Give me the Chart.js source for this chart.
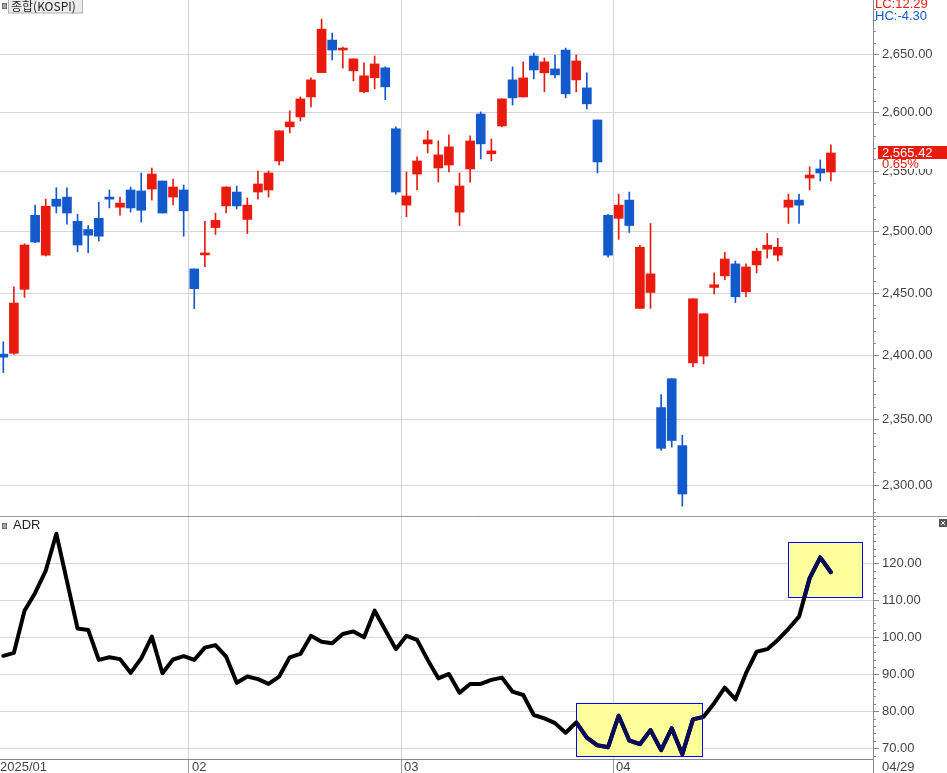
<!DOCTYPE html>
<html>
<head>
<meta charset="utf-8">
<script src="https://cdn.jsdelivr.net/npm/chart.js@4.4.1/dist/chart.umd.min.js"></script>
<style>
  html, body { margin: 0; padding: 0; background: #fff; overflow: hidden; }
  .panel { position: absolute; left: 0; }
</style>
</head>
<body>
<div class="panel" style="top:0"><canvas id="priceChart" width="947" height="516"></canvas></div>
<div class="panel" style="top:516px"><canvas id="adrChart" width="947" height="257"></canvas></div>
<script>
// trading days, 2025
const dates = [
  '01/02','01/03','01/06','01/07','01/08','01/09','01/10','01/13','01/14','01/15',
  '01/16','01/17','01/20','01/21','01/22','01/23','01/24','01/31',
  '02/03','02/04','02/05','02/06','02/07','02/10','02/11','02/12','02/13','02/14',
  '02/17','02/18','02/19','02/20','02/21','02/24','02/25','02/26','02/27','02/28',
  '03/04','03/05','03/06','03/07','03/10','03/11','03/12','03/13','03/14','03/17',
  '03/18','03/19','03/20','03/21','03/24','03/25','03/26','03/27','03/28','03/31',
  '04/01','04/02','04/03','04/04','04/07','04/08','04/09','04/10','04/11','04/14',
  '04/15','04/16','04/17','04/18','04/21','04/22','04/23','04/24','04/25','04/28','04/29'
];
const opens = [
  2401.3, 2402, 2453, 2513.4, 2480.7, 2526.8, 2528.5, 2508.4, 2501.7, 2510.9,
  2528.5, 2520.1, 2534.4, 2533.6, 2535.2, 2541.9, 2528.5, 2534.4, 2469.5, 2480.9,
  2503.3, 2521.2, 2532.7, 2510, 2532.7, 2534.4, 2558.7, 2587.5, 2596, 2613.1,
  2634.1, 2662.4, 2653.7, 2635.6, 2617.5, 2629.6, 2638.2, 2585.9, 2521.8, 2547.7,
  2573.1, 2552.8, 2555.3, 2516, 2552, 2598.5, 2564.7, 2588.3, 2627.8, 2613.1,
  2648.5, 2633.9, 2637.3, 2653.7, 2627.8, 2620.9, 2593.4, 2513.4, 2510.9, 2526,
  2437.7, 2450.5, 2359.5, 2382, 2330.2, 2394.4, 2399.8, 2454.5, 2463.9, 2473.6,
  2451, 2472.8, 2485.6, 2480.7, 2520.1, 2526, 2544.4, 2552, 2549.4
];
const highs = [
  2411, 2455, 2490, 2521.8, 2526.8, 2536.3, 2536.3, 2514.2, 2505, 2524.3,
  2534.4, 2528.5, 2536.9, 2548.6, 2552.8, 2541.9, 2543.6, 2538.5, 2469.5, 2508.4,
  2515.1, 2537, 2537.7, 2527.7, 2550.3, 2550.3, 2584.2, 2601.1, 2613.1, 2629.5,
  2680.8, 2668.5, 2656.3, 2646, 2642.5, 2648.5, 2639.1, 2587.5, 2549.4, 2562.1,
  2584.2, 2575.6, 2580.8, 2548.6, 2579.9, 2600.3, 2577.3, 2611.4, 2639, 2643.4,
  2651.1, 2646.8, 2649.4, 2655.4, 2649.4, 2633.9, 2593.4, 2514.2, 2531, 2532.7,
  2488.8, 2506.7, 2369.6, 2382, 2338.2, 2445.4, 2433.4, 2466.3, 2483.1, 2476,
  2473.6, 2486.4, 2498.4, 2494.4, 2531, 2531, 2553.7, 2559.6, 2572.3
];
const lows = [
  2386.8, 2401, 2446.5, 2491, 2480, 2515.3, 2506.1, 2483.4, 2482.6, 2492.2,
  2519.5, 2513.6, 2516.1, 2507.8, 2526, 2515.3, 2522, 2496.2, 2437.4, 2471.3,
  2497.6, 2515.3, 2518.7, 2498.4, 2526.8, 2528.5, 2555.3, 2582.5, 2592.6, 2604.5,
  2634, 2645.1, 2638, 2627, 2616.6, 2620.1, 2610.6, 2531, 2512.3, 2534.4,
  2565.5, 2541, 2549.4, 2505, 2541, 2560.4, 2558.7, 2587.5, 2606.2, 2613,
  2628.7, 2617.5, 2629.6, 2612.3, 2617.5, 2602.9, 2548.6, 2479.1, 2493.6, 2499.2,
  2437.7, 2437.7, 2326.6, 2329, 2284.3, 2391.3, 2393.6, 2449.4, 2460.7, 2442.2,
  2447, 2466.3, 2478.3, 2476, 2506.7, 2506.7, 2534.4, 2541.9, 2541.9
];
const closes = [
  2398.9, 2442, 2489, 2491.4, 2520.9, 2520.9, 2515.3, 2489, 2497, 2496.2,
  2526.8, 2523.5, 2519.5, 2517.6, 2547.7, 2515.3, 2536.9, 2517.1, 2453.5, 2481.5,
  2509.2, 2536.9, 2521.2, 2521.8, 2539.4, 2548.6, 2584.2, 2591.7, 2611.4, 2627.8,
  2672, 2653.7, 2655.4, 2646, 2631.3, 2641.6, 2621.8, 2532.7, 2529.4, 2558.7,
  2576.5, 2563.8, 2570.6, 2537.7, 2575.6, 2573.1, 2567.2, 2611.4, 2612.3, 2629.5,
  2636.4, 2643.4, 2632.1, 2615.8, 2644.2, 2607.2, 2557.9, 2480.7, 2521.8, 2505,
  2487.2, 2465.5, 2328.1, 2334.1, 2293.4, 2445.4, 2433.4, 2456.7, 2477.6, 2447,
  2471.1, 2483.9, 2488.8, 2487.2, 2526, 2521.8, 2546.9, 2548.6, 2565.42
];
const adr = [
  95.0, 95.8, 107.2, 112, 118, 128, 115.2, 102.4, 102, 93.9,
  94.6, 94.1, 90.4, 94.3, 100.2, 90.3, 94, 94.9, 93.9, 97.2,
  97.9, 94.8, 87.7, 89.4, 88.7, 87.4, 89.4, 94.6, 95.5, 100.4,
  98.8, 98.4, 100.9, 101.6, 100, 107.2, 102, 96.8, 100.4, 99.3,
  93.9, 88.9, 90.1, 85, 87.4, 87.4, 88.5, 89.1, 85.3, 84.4,
  79, 78.1, 76.8, 74.2, 77, 72.9, 70.8, 70.3, 78.8, 72.1,
  71.1, 74.9, 69.5, 75.4, 68.4, 77.8, 78.5, 82.2, 86.4, 83.2,
  90.3, 96.1, 96.8, 99.3, 102.3, 105.6, 116, 121.6, 117.6
];
const priceTicks = [2300, 2350, 2400, 2450, 2500, 2550, 2600, 2650];
const adrTicks = [70, 80, 90, 100, 110, 120];
// highlighted zones on the ADR panel: [from index, to index, low, high]
const adrBoxes = [[54, 65.9, 67.8, 82.2], [74, 80.96, 110.8, 125.7]];
const lastChange = '0.65%';
const lcText = 'LC:12.29', hcText = 'HC:-4.30';

const UP = '#e81b0e', DOWN = '#1259cc', NAVY = '#0a0a5c';
const GRID = '#d6d6d6', AXIS = '#888';
const FONT = '"Liberation Sans", Arial, sans-serif';
const X_MIN = -0.31, X_MAX = 81.97;

Chart.defaults.font.family = FONT;
Chart.defaults.animation = false;

const monthBreaks = [];
dates.forEach((d, i) => { if (i > 0 && d.slice(0, 2) !== dates[i - 1].slice(0, 2)) monthBreaks.push(i - 0.5); });

const fmt = v => Number(v).toLocaleString('en-US', {minimumFractionDigits: 2, maximumFractionDigits: 2});
const candleColor = ctx => closes[ctx.dataIndex] >= opens[ctx.dataIndex] ? UP : DOWN;

function minorTicks(chart, step, majors) {
  const s = chart.scales.y, c = chart.ctx;
  c.save();
  c.strokeStyle = AXIS; c.lineWidth = 1;
  c.beginPath();
  for (let v = Math.ceil(s.min / step) * step; v <= s.max; v += step) {
    if (majors.includes(Math.round(v))) continue;
    const y = Math.round(s.getPixelForValue(v)) + 0.5;
    c.moveTo(s.left, y); c.lineTo(s.left + 3, y);
  }
  c.stroke();
  c.restore();
}

function xScale(extra) {
  return Object.assign({
    type: 'linear', min: X_MIN, max: X_MAX, offset: false,
    afterBuildTicks: s => { s.ticks = monthBreaks.map(v => ({value: v})); },
    ticks: {display: false}
  }, extra);
}

const pricePlugin = {
  id: 'priceDeco',
  afterDraw(chart) {
    const c = chart.ctx, y = chart.scales.y;
    minorTicks(chart, 10, priceTicks);
    // title tag
    c.save();
    c.fillStyle = '#a8a8a8'; c.strokeStyle = '#6e6e6e';
    c.fillRect(2, 3, 5, 6); c.strokeRect(2.5, 3.5, 4, 5);
    c.fillStyle = '#ececec'; c.fillRect(8, 0, 75, 13);
    c.strokeStyle = '#b0b0b0'; c.strokeRect(8.5, -0.5, 74, 13.5);
    c.fillStyle = '#222'; c.font = '12px "Noto Sans CJK KR", sans-serif';
    c.textBaseline = 'middle'; c.textAlign = 'left';
    c.fillText('종합(KOSPI)', 11, 6.5);
    // LC / HC
    c.font = '13px ' + FONT;
    c.fillStyle = UP; c.fillText(lcText, 875, 4);
    c.fillStyle = DOWN; c.fillText(hcText, 875, 16);
    // last price tag
    const last = closes[closes.length - 1];
    const py = Math.round(y.getPixelForValue(last));
    c.fillStyle = UP; c.fillRect(878, py - 7, 69, 13);
    c.fillStyle = '#fff'; c.fillText(fmt(last), 882, py);
    c.fillRect(878, py + 6, 69, 10);
    c.fillStyle = UP; c.fillText(lastChange, 882, py + 11);
    c.restore();
  }
};

new Chart(document.getElementById('priceChart'), {
  type: 'bar',
  data: {
    labels: dates,
    datasets: [
      {
        label: 'body', order: 0, grouped: false, barThickness: 9, minBarLength: 2,
        data: dates.map((d, i) => ({x: i, y: [opens[i], closes[i]]})),
        backgroundColor: candleColor, borderWidth: 0
      },
      {
        label: 'wick', order: 1, grouped: false, barThickness: 1,
        data: dates.map((d, i) => ({x: i, y: [lows[i], highs[i]]})),
        backgroundColor: candleColor, borderWidth: 0
      }
    ]
  },
  options: {
    responsive: false, events: [],
    layout: {padding: 0},
    plugins: {legend: {display: false}, tooltip: {enabled: false}},
    scales: {
      x: xScale({
        grid: {color: GRID, drawTicks: false, offset: false},
        border: {display: false},
        afterFit: s => { s.height = 0; s.paddingLeft = 0; s.paddingRight = 0; }
      }),
      y: {
        type: 'logarithmic', position: 'right', min: 2276.9, max: 2697.7,
        afterBuildTicks: s => { s.ticks = priceTicks.map(v => ({value: v})); },
        afterFit: s => { s.width = 74; s.paddingTop = 0; s.paddingBottom = 0; },
        grid: {color: GRID, tickColor: AXIS, tickLength: 6},
        border: {color: AXIS},
        ticks: {callback: v => fmt(v), color: '#444', padding: 3, autoSkip: false, font: {size: 13}}
      }
    }
  },
  plugins: [pricePlugin]
});

function boxRects(chart) {
  const x = chart.scales.x, y = chart.scales.y;
  return adrBoxes.map(b => {
    const x0 = Math.round(x.getPixelForValue(b[0])), x1 = Math.round(x.getPixelForValue(b[1]));
    const y0 = Math.round(y.getPixelForValue(b[3])), y1 = Math.round(y.getPixelForValue(b[2]));
    return [x0, y0, x1 - x0, y1 - y0];
  });
}

const adrPlugin = {
  id: 'adrDeco',
  beforeDatasetsDraw(chart) {
    const c = chart.ctx;
    c.save();
    boxRects(chart).forEach(r => {
      c.fillStyle = '#ffff9c'; c.fillRect(r[0], r[1], r[2], r[3]);
      c.strokeStyle = '#0000ff'; c.lineWidth = 1;
      c.strokeRect(r[0] + 0.5, r[1] + 0.5, r[2], r[3]);
    });
    c.restore();
  },
  beforeDatasetDraw(chart, args) {
    if (args.index !== 1) return;
    const c = chart.ctx;
    c.save();
    c.beginPath();
    boxRects(chart).forEach(r => c.rect(r[0], r[1], r[2] + 1, r[3] + 1));
    c.clip();
  },
  afterDatasetDraw(chart, args) {
    if (args.index === 1) chart.ctx.restore();
  },
  afterDraw(chart) {
    const c = chart.ctx, x = chart.scales.x, area = chart.chartArea;
    minorTicks(chart, 2, adrTicks);
    c.save();
    // separator
    c.strokeStyle = '#999'; c.lineWidth = 1;
    c.beginPath(); c.moveTo(0, 0.5); c.lineTo(chart.width, 0.5); c.stroke();
    // label
    c.fillStyle = '#a8a8a8'; c.strokeStyle = '#6e6e6e';
    c.fillRect(2, 7, 5, 6); c.strokeRect(2.5, 7.5, 4, 5);
    c.fillStyle = '#222'; c.font = '13px ' + FONT;
    c.textBaseline = 'middle'; c.textAlign = 'left';
    c.fillText('ADR', 13, 9);
    // close box
    c.fillStyle = '#555'; c.fillRect(939, 3, 8, 8);
    c.strokeStyle = '#fff';
    c.beginPath(); c.moveTo(941, 5); c.lineTo(945, 9); c.moveTo(945, 5); c.lineTo(941, 9); c.stroke();
    // date labels
    const ly = area.bottom + 8;
    c.fillStyle = '#444';
    c.fillText('2025/' + dates[0].slice(0, 2), 0, ly);
    monthBreaks.forEach(b => {
      const i = Math.ceil(b);
      c.fillText(dates[i].slice(0, 2), Math.round(x.getPixelForValue(b)) + 3, ly);
    });
    c.strokeStyle = AXIS;
    c.beginPath(); c.moveTo(area.right + 0.5, area.bottom); c.lineTo(area.right + 0.5, chart.height); c.stroke();
    c.fillText(dates[dates.length - 1], area.right + 9, ly);
    c.restore();
  }
};

new Chart(document.getElementById('adrChart'), {
  type: 'line',
  data: {
    labels: dates,
    datasets: [
      {
        label: 'ADR', order: 1,
        data: dates.map((d, i) => ({x: i, y: adr[i]})),
        borderColor: '#000', borderWidth: 4, pointRadius: 0, tension: 0,
        borderJoinStyle: 'round', borderCapStyle: 'round'
      },
      {
        label: 'ADR zone', order: 0,
        data: dates.map((d, i) => ({x: i, y: adr[i]})),
        borderColor: NAVY, borderWidth: 4, pointRadius: 0, tension: 0,
        borderJoinStyle: 'round', borderCapStyle: 'round'
      }
    ]
  },
  options: {
    responsive: false, events: [],
    layout: {padding: 0},
    plugins: {legend: {display: false}, tooltip: {enabled: false}},
    scales: {
      x: xScale({
        grid: {color: GRID, tickColor: '#999', tickLength: 14},
        border: {color: AXIS},
        afterFit: s => { s.height = 14; s.paddingLeft = 0; s.paddingRight = 0; }
      }),
      y: {
        type: 'linear', position: 'right', min: 67.1, max: 132.8,
        afterBuildTicks: s => { s.ticks = adrTicks.map(v => ({value: v})); },
        afterFit: s => { s.width = 74; s.paddingTop = 0; s.paddingBottom = 0; },
        grid: {color: GRID, tickColor: AXIS, tickLength: 6},
        border: {color: AXIS},
        ticks: {callback: v => fmt(v), color: '#444', padding: 3, autoSkip: false, font: {size: 13}}
      }
    }
  },
  plugins: [adrPlugin]
});
</script>
</body>
</html>
